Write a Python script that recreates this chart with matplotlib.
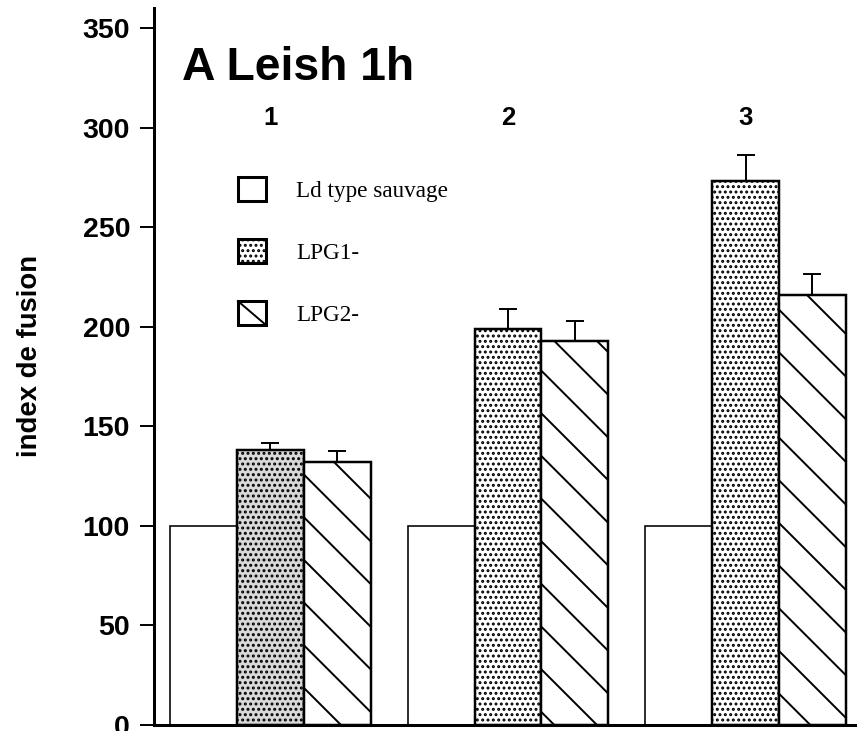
import matplotlib
matplotlib.use("Agg")
import matplotlib.pyplot as plt
from matplotlib.patches import Patch, Rectangle
from matplotlib.lines import Line2D
from matplotlib.legend_handler import HandlerBase
import numpy as np

# valeurs (index de fusion)
groups = ["1", "2", "3"]
wild_type = [100, 100, 100]
lpg1 = [138, 199, 273]
lpg1_err = [3.7, 10, 13.4]
lpg2 = [132, 193, 216]
lpg2_err = [5.6, 9.6, 10.2]
series_labels = ["Ld type sauvage", "LPG1-", "LPG2-"]
yticks = [0, 50, 100, 150, 200, 250, 300, 350]

plt.rcParams["font.family"] = ["Liberation Sans", "DejaVu Sans"]
plt.rcParams["hatch.linewidth"] = 1.1


class DiagSquare(HandlerBase):
    # carre de legende avec une seule diagonale, comme sur l'original
    def create_artists(self, legend, orig_handle, xdescent, ydescent,
                       width, height, fontsize, trans):
        r = Rectangle((-xdescent, -ydescent), width, height, facecolor="white",
                      edgecolor="black", linewidth=1.7, transform=trans)
        ln = Line2D([-xdescent, -xdescent + width], [-ydescent + height, -ydescent],
                    color="black", linewidth=1.1, transform=trans)
        return [r, ln]


dpi = 128
fig = plt.figure(figsize=(857 / dpi, 731 / dpi), dpi=dpi)
ax = fig.add_axes([154 / 857, 6 / 731, 701 / 857, 717 / 731])

x = np.arange(len(groups))
w = 0.282

ax.bar(x - w, wild_type, w, color="white", edgecolor="black", linewidth=0.9)
ax.bar(x, lpg1, w, color=["#d8d8d8", "white", "white"], edgecolor="black",
       linewidth=1.4, hatch="....")
ax.bar(x + w, lpg2, w, color="white", edgecolor="black", linewidth=1.4, hatch="\\")

ax.errorbar(x, lpg1, yerr=[np.zeros(3), lpg1_err], fmt="none", ecolor="black",
            elinewidth=1.1, capsize=5.2, capthick=1.1, zorder=5)
ax.errorbar(x + w, lpg2, yerr=[np.zeros(3), lpg2_err], fmt="none", ecolor="black",
            elinewidth=1.1, capsize=5.2, capthick=1.1, zorder=5)

for xi, g in zip(x, groups):
    ax.text(xi, 301.5, g, ha="center", va="baseline", fontsize=14.5,
            fontweight="bold")

ax.text(0.040, 0.8996, "A Leish 1h", transform=ax.transAxes, fontsize=26,
        fontweight="bold", va="baseline", ha="left")

ax.set_xlim(-0.4905, 2.461)
ax.set_ylim(0, 360)
ax.set_yticks(yticks)
ax.set_xticks([])
for s in ["top", "right"]:
    ax.spines[s].set_visible(False)
ax.spines["left"].set_linewidth(1.7)
ax.spines["bottom"].set_linewidth(1.7)
ax.tick_params(axis="y", length=7.9, width=1.1, pad=5.6, labelsize=16)
for lbl in ax.get_yticklabels():
    lbl.set_fontweight("bold")

ax.set_ylabel("index de fusion", fontsize=15.5, fontweight="bold")
ax.yaxis.set_label_coords(-0.158, 0.515)

h_wt = Patch(facecolor="white", edgecolor="black", linewidth=1.7)
h_lpg1 = Patch(facecolor="white", edgecolor="black", linewidth=1.7, hatch="....")
h_lpg2 = Patch(facecolor="white", edgecolor="black", linewidth=1.7)
ax.legend([h_wt, h_lpg1, h_lpg2], series_labels, loc="upper left",
          bbox_to_anchor=(0.1198, 0.7645), frameon=False, borderpad=0,
          borderaxespad=0, handlelength=1.21, handleheight=1.21,
          handletextpad=1.3, labelspacing=1.62,
          handler_map={h_lpg2: DiagSquare()},
          prop={"family": "Liberation Serif", "size": 13})

fig.savefig("out.png", dpi=dpi)
